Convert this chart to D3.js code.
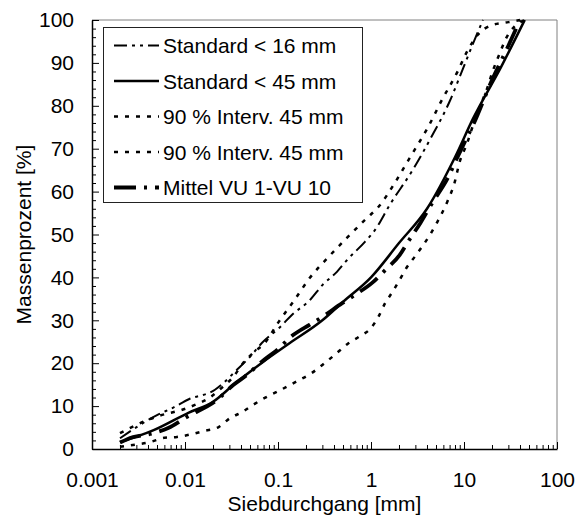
<!DOCTYPE html>
<html><head><meta charset="utf-8">
<script src="https://cdn.jsdelivr.net/npm/d3@7"></script>
<style>body{margin:0;background:#fff}svg{display:block}text{font-family:"Liberation Sans",Arial,sans-serif}</style>
</head><body>
<svg id="c" width="582" height="515"></svg>
<script>
// ---- data ----
const seriesNames = ["Standard < 16 mm","Standard < 45 mm","90 % Interv. 45 mm","90 % Interv. 45 mm","Mittel VU 1-VU 10"];
const std16X = [0.002,0.005,0.0074,0.011,0.021,0.026,0.034,0.05,0.067,0.105,0.14,0.22,0.3,0.43,0.55,0.86,1.1,1.6,2.8,4.4,7,9.8,12.5,16];
const std16Y = [2.5,7.9,9.6,11.6,13.8,15.4,17.9,21.5,24.7,28.4,31.2,34.7,38.2,41.3,44,48.3,51,57,65,72.5,81,88.8,94.5,100];
const std45X = [0.002,0.0046,0.011,0.02,0.033,0.069,0.134,0.3,0.5,1,2,4,8,12.5,25,45];
const std45Y = [1.6,4.4,8.5,11,14.9,20.3,24.7,30,34.3,40,48,56,68,77,89,100];
const upX = [0.002,0.0037,0.0054,0.0095,0.0135,0.0185,0.024,0.033,0.042,0.054,0.072,0.1,0.15,0.22,0.34,0.55,0.9,1.2,1.8,2.6,4.1,5.8,8.5,10.7,14,20,30,40];
const upY = [3.7,6.5,7.8,9.2,10.5,12,14,16.8,20,22.4,24.7,29.4,34.7,39.9,44.5,49.2,53.8,56.4,62,67.8,75,81.4,87.9,92.5,96.5,98.8,99.5,100];
const lowX = [0.002,0.0029,0.0042,0.006,0.0082,0.012,0.016,0.023,0.0305,0.041,0.054,0.072,0.097,0.134,0.17,0.23,0.3,0.41,0.56,0.76,1.0,1.2,1.42,1.7,2.03,2.4,2.95,3.5,4.3,5.1,6.6,7.9,9,10.7,12.3,14.6,17.7,20.3,24,28,35,45];
const lowY = [0.5,1,1.6,2.6,2.8,3.5,4.2,5.1,7.2,8.6,10.3,11.9,13.3,14.9,16.1,17.7,19.6,22,24.5,26.3,28.2,30.8,34,36.6,39.4,42.2,44.8,47,49.9,52.7,57.6,62,67,71,75,79.5,84,88,92,95.5,98.5,100];
const mitX = [0.002,0.0024,0.0046,0.0066,0.0105,0.022,0.033,0.046,0.064,0.1,0.144,0.22,0.3,0.49,0.67,1.05,1.42,2.03,2.5,3.4,4.6,6.7,8.4,10.2,12.5,20,30,40];
const mitY = [1.5,2.3,3.7,4.9,7.5,11.4,14.9,17.2,20,23.3,26.5,29,30.8,34,35.9,38.9,41.7,45.2,48.3,52.7,57.5,63.2,67.8,71.6,75.5,86,94,100];
const xTicks = [0.001,0.01,0.1,1,10,100];
const xTickLabels = ["0.001","0.01","0.1","1","10","100"];
const yTicks = [0,10,20,30,40,50,60,70,80,90,100];

// ---- styles ----
const styles = [
  {w:2, dash:"13,5,3,5,3,5"},
  {w:2.5, dash:null},
  {w:2.5, dash:"4,7"},
  {w:2.5, dash:"4,7"},
  {w:3.8, dash:"22,8,3,8"}
];
const series = [[std16X,std16Y],[std45X,std45Y],[upX,upY],[lowX,lowY],[mitX,mitY]];

const L=92,R=557,T=20,B=449;
const svg = d3.select("#c");
const x = d3.scaleLog().domain([0.001,100]).range([L,R]);
const y = d3.scaleLinear().domain([0,100]).range([B,T]);

// frame top/right
svg.append("line").attr("x1",L).attr("x2",R).attr("y1",T).attr("y2",T).attr("stroke","#808080").attr("stroke-width",1);
svg.append("line").attr("x1",R).attr("x2",R).attr("y1",T).attr("y2",B).attr("stroke","#808080").attr("stroke-width",1);

// curves
const line = d3.line().x(d=>x(d[0])).y(d=>y(d[1])).curve(d3.curveMonotoneX);
series.forEach((s,i)=>{
  const pts = s[0].map((v,j)=>[v,s[1][j]]);
  svg.append("path").attr("d",line(pts)).attr("fill","none").attr("stroke","#000")
    .attr("stroke-width",styles[i].w).attr("stroke-dasharray",styles[i].dash);
});

// minor ticks
const yMinor = d3.range(0,101,2).filter(v=>v%10!==0);
svg.append("g").attr("transform",`translate(${L},0)`)
  .call(d3.axisLeft(y).tickValues(yMinor).tickSize(-4).tickFormat(""))
  .call(g=>g.select(".domain").remove());
const xMinor = [];
[0.001,0.01,0.1,1,10].forEach(d=>{for(let k=2;k<=9;k++) xMinor.push(d*k);});
svg.append("g").attr("transform",`translate(0,${B})`)
  .call(d3.axisBottom(x).tickValues(xMinor).tickSize(-4).tickFormat(""))
  .call(g=>g.select(".domain").remove());

// major axes
const yAx = svg.append("g").attr("transform",`translate(${L},0)`)
  .call(d3.axisLeft(y).tickValues(yTicks).tickSizeInner(-7).tickSizeOuter(0).tickPadding(18).tickFormat(d3.format("d")));
const xAx = svg.append("g").attr("transform",`translate(0,${B})`)
  .call(d3.axisBottom(x).tickValues(xTicks).tickSizeInner(-7).tickSizeOuter(0).tickPadding(23).tickFormat((d,i)=>xTickLabels[i]));
[yAx,xAx].forEach(g=>{
  g.selectAll("text").attr("font-size",21).attr("fill","#000").attr("font-family","Liberation Sans, Arial, sans-serif");
  g.select(".domain").attr("stroke-width",1.5);
});
svg.selectAll(".tick line").attr("stroke","#000");

// titles
svg.append("text").attr("x",(L+R)/2).attr("y",511).attr("text-anchor","middle").attr("font-size",21).text("Siebdurchgang [mm]");
svg.append("text").attr("transform",`translate(31,${(T+B)/2}) rotate(-90)`).attr("text-anchor","middle").attr("font-size",21).text("Massenprozent [%]");

// legend
const lg = svg.append("g");
lg.append("rect").attr("x",103.5).attr("y",27.5).attr("width",259).attr("height",175).attr("fill","#fff").attr("stroke","#222").attr("stroke-width",1);
seriesNames.forEach((n,i)=>{
  const cy = 45.5 + i*35.5;
  lg.append("line").attr("x1",114).attr("x2",159).attr("y1",cy).attr("y2",cy).attr("stroke","#000")
    .attr("stroke-width",styles[i].w).attr("stroke-dasharray",styles[i].dash);
  lg.append("text").attr("x",163).attr("y",cy).attr("dy","0.36em").attr("font-size",21).text(n);
});
</script>
</body></html>
